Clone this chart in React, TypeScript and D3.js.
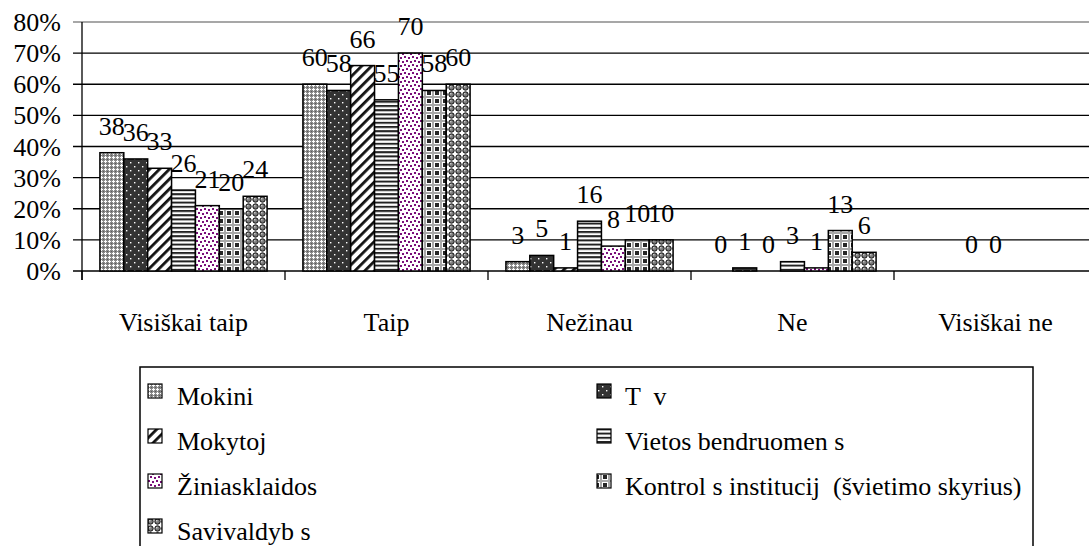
import React from "react";
import * as d3 from "d3";

// Survey answer categories along the x axis
const categories = ["Visiškai taip", "Taip", "Nežinau", "Ne", "Visiškai ne"];

// Series names as they appear in the legend
const seriesNames = [
  "Mokini",
  "T  v",
  "Mokytoj",
  "Vietos bendruomen s",
  "Žiniasklaidos",
  "Kontrol s institucij  (švietimo skyrius)",
  "Savivaldyb s",
];

// Percentages per series, one value per category (null = no answer given)
const mokiniai = [38, 60, 3, 0, null];
const tevai = [36, 58, 5, 1, null];
const mokytojai = [33, 66, 1, 0, 0];
const vietosBendruomene = [26, 55, 16, 3, 0];
const ziniasklaida = [21, 70, 8, 1, null];
const kontrole = [20, 58, 10, 13, null];
const savivaldybes = [24, 60, 10, 6, null];

const seriesValues = [mokiniai, tevai, mokytojai, vietosBendruomene, ziniasklaida, kontrole, savivaldybes];

const yTicks = [0, 10, 20, 30, 40, 50, 60, 70, 80];

const W = 1089;
const H = 546;
const FONT = '"Liberation Serif", "DejaVu Serif", serif';
const FS = 26;

const plot = { left: 82, right: 1097, top: 22, bottom: 271 };

function Patterns() {
  return (
    <defs>
      {/* light gray stipple with white crosses */}
      <pattern id="p0" width="4" height="4" patternUnits="userSpaceOnUse">
        <rect width="4" height="4" fill="#8a8a8a" />
        <rect x="1" y="0" width="1" height="3" fill="#ffffff" />
        <rect x="0" y="1" width="3" height="1" fill="#ffffff" />
        <rect x="3" y="3" width="1" height="1" fill="#5a5a5a" />
      </pattern>
      {/* dark gray with sparse white dots */}
      <pattern id="p1" width="8" height="8" patternUnits="userSpaceOnUse">
        <rect width="8" height="8" fill="#333333" />
        <rect x="2" y="2" width="1.4" height="1.4" fill="#ffffff" />
        <rect x="6" y="6" width="1.4" height="1.4" fill="#ffffff" />
      </pattern>
      {/* wide diagonal stripes */}
      <pattern id="p2" width="7" height="7" patternUnits="userSpaceOnUse" patternTransform="rotate(45)">
        <rect width="7" height="7" fill="#ffffff" />
        <rect x="0" y="0" width="2.8" height="7" fill="#111111" />
      </pattern>
      {/* horizontal stripes */}
      <pattern id="p3" width="4" height="4.2" patternUnits="userSpaceOnUse">
        <rect width="4" height="4.2" fill="#ffffff" />
        <rect x="0" y="0" width="4" height="2" fill="#222222" />
      </pattern>
      {/* purple confetti */}
      <pattern id="p4" width="8" height="8" patternUnits="userSpaceOnUse">
        <rect width="8" height="8" fill="#ffffff" />
        <rect x="0" y="1" width="2" height="2" fill="#7a0f7a" />
        <rect x="4" y="0" width="2" height="2" fill="#7a0f7a" />
        <rect x="2" y="5" width="2" height="2" fill="#7a0f7a" />
        <rect x="6" y="4" width="2" height="2" fill="#7a0f7a" />
      </pattern>
      {/* plaid */}
      <pattern id="p5" width="8" height="8" patternUnits="userSpaceOnUse">
        <rect width="8" height="8" fill="#ffffff" />
        <rect x="0" y="0" width="8" height="2" fill="#a8a8a8" />
        <rect x="0" y="0" width="2" height="8" fill="#a8a8a8" />
        <rect x="3" y="3" width="4" height="4" fill="#262626" />
      </pattern>
      {/* spheres */}
      <pattern id="p6" width="7" height="7" patternUnits="userSpaceOnUse">
        <rect width="7" height="7" fill="#ffffff" />
        <circle cx="3.5" cy="3.5" r="2.7" fill="#7a7a7a" stroke="#111111" strokeWidth="1" />
        <circle cx="2.8" cy="2.8" r="0.8" fill="#dddddd" />
      </pattern>
    </defs>
  );
}

export default function App() {
  const x0 = d3.scaleBand<string>().domain(categories).range([plot.left, plot.right]).paddingInner(0).paddingOuter(0);
  const x1 = d3
    .scaleBand<number>()
    .domain(d3.range(seriesNames.length))
    .range([0, x0.bandwidth()])
    .paddingInner(0)
    .paddingOuter(0.75);
  const y = d3.scaleLinear().domain([0, 80]).range([plot.bottom, plot.top]);

  const bars: { key: string; x: number; w: number; v: number; s: number }[] = [];
  seriesValues.forEach((vals, s) => {
    vals.forEach((v, c) => {
      if (v === null) return;
      bars.push({ key: `${s}-${c}`, x: (x0(categories[c]) as number) + (x1(s) as number), w: x1.bandwidth(), v, s });
    });
  });

  const boundaries = categories.map((c) => x0(c) as number);

  const legendRows = [405, 450, 495, 540];
  const legendCols = [{ sw: 148, tx: 177 }, { sw: 597, tx: 625 }];

  const textStyle = { fontFamily: FONT, fontSize: FS };

  return (
    <svg
      width={W}
      height={H}
      style={{ position: "absolute", left: 0, top: 0, display: "block", background: "#fff", fontFamily: FONT, fontSize: FS }}
    >
      <Patterns />
      <rect width={W} height={H} fill="#ffffff" />

      {/* gridlines */}
      {yTicks.map((t) => (
        <line
          key={`g${t}`}
          x1={plot.left - 9}
          x2={W + 20}
          y1={y(t)}
          y2={y(t)}
          stroke={t === 80 ? "#8a8a8a" : "#000"}
          strokeWidth={t === 80 ? 1.6 : 1.3}
        />
      ))}

      {/* y axis */}
      <line x1={plot.left} x2={plot.left} y1={plot.top} y2={plot.bottom + 9} stroke="#000" strokeWidth={1.3} />
      {yTicks.map((t) => (
        <text key={`yl${t}`} x={61} y={y(t) + 9} textAnchor="end" style={textStyle}>
          {`${t}%`}
        </text>
      ))}

      {/* category ticks */}
      {boundaries.map((b, i) => (
        <line key={`ct${i}`} x1={b} x2={b} y1={plot.bottom} y2={plot.bottom + 9} stroke="#000" strokeWidth={1.3} />
      ))}

      {/* bars */}
      {bars
        .filter((b) => b.v > 0)
        .map((b) => (
          <rect
            key={`b${b.key}`}
            x={b.x}
            y={y(b.v)}
            width={b.w}
            height={y(0) - y(b.v)}
            fill={`url(#p${b.s})`}
            stroke="#000"
            strokeWidth={1.5}
          />
        ))}

      {/* value labels */}
      {bars.map((b) => (
        <text key={`v${b.key}`} x={b.x + b.w / 2} y={y(b.v) - 18} textAnchor="middle" style={textStyle}>
          {b.v}
        </text>
      ))}

      {/* category labels */}
      {categories.map((c) => (
        <text key={`c${c}`} x={(x0(c) as number) + x0.bandwidth() / 2} y={331} textAnchor="middle" style={textStyle}>
          {c}
        </text>
      ))}

      {/* legend */}
      <rect x={140} y={367} width={893} height={240} fill="none" stroke="#000" strokeWidth={1.5} />
      {seriesNames.map((name, i) => {
        const col = legendCols[i % 2];
        const row = legendRows[Math.floor(i / 2)];
        return (
          <g key={`l${i}`}>
            <rect x={col.sw} y={row - 21} width={14} height={14} fill={`url(#p${i})`} stroke="#000" strokeWidth={1.2} />
            <text x={col.tx} y={row} style={{ ...textStyle, whiteSpace: "pre" }}>
              {name}
            </text>
          </g>
        );
      })}
    </svg>
  );
}
